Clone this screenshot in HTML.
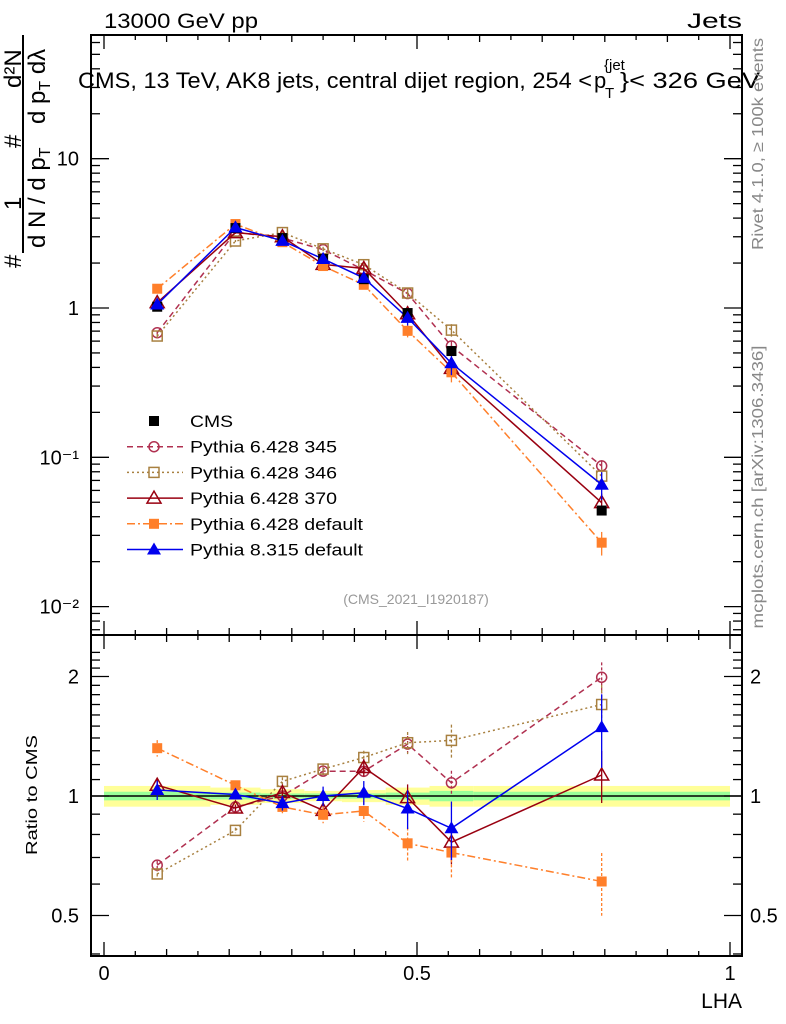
<!DOCTYPE html>
<html><head><meta charset="utf-8"><style>
body{margin:0;background:#fff;}
svg{display:block;font-family:"Liberation Sans",sans-serif;}
</style></head><body>
<svg id="chart" width="786" height="1024" viewBox="0 0 786 1024">
<g id="bands"></g>
<g id="axes"></g>
<g id="series"></g>
<g id="legend"></g>
<text x="104" y="28" font-size="21" textLength="154" lengthAdjust="spacingAndGlyphs">13000 GeV pp</text>
<text x="687" y="28" font-size="21" textLength="55" lengthAdjust="spacingAndGlyphs">Jets</text>
<g font-size="22">
<text x="78" y="88" textLength="514" lengthAdjust="spacingAndGlyphs">CMS, 13 TeV, AK8 jets, central dijet region, 254 &lt;</text>
<text x="594" y="88">p</text>
<text x="605" y="98" font-size="15">T</text>
<text x="604" y="70" font-size="15">{jet</text>
<text x="620" y="88" textLength="140" lengthAdjust="spacingAndGlyphs">}&lt; 326 GeV</text>
</g>
<text x="416" y="604" font-size="14" fill="#999" text-anchor="middle">(CMS_2021_I1920187)</text>
<text x="742" y="1008" font-size="21" text-anchor="end">LHA</text>
<text transform="translate(37,795) rotate(-90)" font-size="16" text-anchor="middle" textLength="120" lengthAdjust="spacingAndGlyphs">Ratio to CMS</text>
<text transform="translate(763,144) rotate(-90)" font-size="16" fill="#888" text-anchor="middle" textLength="212" lengthAdjust="spacingAndGlyphs">Rivet 4.1.0, ≥ 100k events</text>
<text transform="translate(763,487) rotate(-90)" font-size="16" fill="#888" text-anchor="middle" textLength="283" lengthAdjust="spacingAndGlyphs">mcplots.cern.ch [arXiv:1306.3436]</text>
<g font-size="24">
<line x1="23" y1="35" x2="23" y2="253" stroke="#000" stroke-width="2"/>
<text transform="translate(21,268) rotate(-90)">#</text>
<text transform="translate(21,210) rotate(-90)">1</text>
<text transform="translate(21,148) rotate(-90)">#</text>
<text transform="translate(21,88) rotate(-90)">d²N</text>
<text transform="translate(45,248) rotate(-90)">d N / d p<tspan font-size="16" dy="5">T</tspan></text>
<text transform="translate(45,124) rotate(-90)">d p<tspan font-size="16" dy="5">T</tspan><tspan dy="-5"> d</tspan>λ</text>
</g>
</svg>
<script>
const NS='http://www.w3.org/2000/svg';
const xCenters=[0.085,0.21,0.285,0.35,0.415,0.485,0.555,0.795];
const cmsVals=[1.02,3.43,2.94,2.13,1.56,0.925,0.515,0.044];
const p345=[0.683,3.22,2.94,2.46,1.80,1.25,0.556,0.0876];
const p346=[0.649,2.81,3.20,2.49,1.95,1.26,0.711,0.0748];
const p370=[1.086,3.20,3.00,1.96,1.84,0.916,0.394,0.0497];
const p6def=[1.346,3.65,2.76,1.91,1.43,0.703,0.371,0.0268];
const p8def=[1.056,3.46,2.82,2.13,1.59,0.860,0.427,0.0656];
const relErr=[0.04,0.02,0.03,0.04,0.05,0.08,0.12,0.15];
const binEdges=[0,0.17,0.25,0.32,0.38,0.45,0.52,0.59,1.0];
const bandYellow=[0.06,0.05,0.04,0.03,0.035,0.05,0.06,0.06];
const bandGreen=[0.025,0.02,0.015,0.015,0.015,0.02,0.03,0.025];
const mainTicks=[0.01,0.1,1,10];
const mainTickLabels=['10⁻²','10⁻¹','1','10'];
const ratioTicks=[0.5,1,2];
const ratioTickLabels=['0.5','1','2'];
const xTicks=[0,0.5,1];
const xTickLabels=['0','0.5','1'];

const L=91,R=742,T=35,MB=635,RB=956;
const X=v=>104+626*v;
const Ym=v=>308-149.3*Math.log10(v);
const Yr=v=>796-397*Math.log10(v);
function el(tag,attrs,parent){const e=document.createElementNS(NS,tag);for(const k in attrs)e.setAttribute(k,attrs[k]);parent.appendChild(e);return e;}
const gB=document.getElementById('bands'),gA=document.getElementById('axes'),gS=document.getElementById('series'),gL=document.getElementById('legend');

for(let i=0;i<xCenters.length;i++){
  const x1=X(binEdges[i]),x2=X(binEdges[i+1]);
  const y=el('rect',{x:x1,y:Yr(1+bandYellow[i]),width:x2-x1,height:Yr(1-bandYellow[i])-Yr(1+bandYellow[i]),fill:'#ffff99'},gB);
  
  
  const g=el('rect',{x:x1,y:Yr(1+bandGreen[i]),width:x2-x1,height:Yr(1-bandGreen[i])-Yr(1+bandGreen[i]),fill:'#99ff99'},gB);
  
  
}
el('line',{x1:L,x2:R,y1:Yr(1),y2:Yr(1),stroke:'#000','stroke-width':1.5},gB);

el('rect',{x:L,y:T,width:R-L,height:MB-T,fill:'none',stroke:'#000','stroke-width':2},gA);
el('rect',{x:L,y:MB,width:R-L,height:RB-MB,fill:'none',stroke:'#000','stroke-width':2},gA);
for(let k=0;k<=20;k++){const v=k*0.05;const len=(k%10==0)?14:(k%2==0?7:5);
  for(const [yb,yt] of [[MB,T],[RB,MB]]){
    el('line',{x1:X(v),x2:X(v),y1:yb,y2:yb-len,stroke:'#000','stroke-width':1.3},gA);
    el('line',{x1:X(v),x2:X(v),y1:yt,y2:yt+len,stroke:'#000','stroke-width':1.3},gA);
  }}
xTicks.forEach((v,i)=>{const t=el('text',{x:X(v),y:980,'font-size':20,'text-anchor':'middle'},gA);t.textContent=xTickLabels[i];
  
  });
for(let d=-3;d<=1;d++){for(let m=1;m<10;m++){const v=m*Math.pow(10,d);const y=Ym(v);if(y<T||y>MB)continue;const len=m==1?18:9;
  el('line',{x1:L,x2:L+len,y1:y,y2:y,stroke:'#000','stroke-width':1.3},gA);
  el('line',{x1:R,x2:R-len,y1:y,y2:y,stroke:'#000','stroke-width':1.3},gA);}}
mainTicks.forEach((v,i)=>{const t=el('text',{x:79,y:Ym(v)+7,'font-size':20,'text-anchor':'end'},gA);t.textContent=mainTickLabels[i];
  
  });
for(let v=0.4;v<=2.35;v+=0.1){const y=Yr(v);if(y<MB||y>RB)continue;const major=Math.abs(v-0.5)<1e-6||Math.abs(v-1)<1e-6||Math.abs(v-2)<1e-6;const len=major?18:9;
  el('line',{x1:L,x2:L+len,y1:y,y2:y,stroke:'#000','stroke-width':1.3},gA);
  el('line',{x1:R,x2:R-len,y1:y,y2:y,stroke:'#000','stroke-width':1.3},gA);}
ratioTicks.forEach((v,i)=>{
  const t=el('text',{x:79,y:Yr(v)+7,'font-size':20,'text-anchor':'end'},gA);t.textContent=ratioTickLabels[i];
  
  
  const t2=el('text',{x:750,y:Yr(v)+7,'font-size':20},gA);t2.textContent=ratioTickLabels[i];
  
  });

function marker(g,type,color,x,y){
  if(type==='circle')el('circle',{cx:x,cy:y,r:5,fill:'none',stroke:color,'stroke-width':1.5},g);
  else if(type==='osq')el('rect',{x:x-5,y:y-5,width:10,height:10,fill:'none',stroke:color,'stroke-width':1.5},g);
  else if(type==='fsq')el('rect',{x:x-5,y:y-5,width:10,height:10,fill:color},g);
  else if(type==='otri')el('polygon',{points:`${x},${y-7} ${x-7},${y+5} ${x+7},${y+5}`,fill:'none',stroke:color,'stroke-width':1.5},g);
  else if(type==='ftri')el('polygon',{points:`${x},${y-7} ${x-7},${y+5} ${x+7},${y+5}`,fill:color},g);
}
const series=[
  {name:'Pythia 6.428 345',vals:p345,color:'#b03050',type:'circle',dash:'6,4'},
  {name:'Pythia 6.428 346',vals:p346,color:'#a88040',type:'osq',dash:'2,3'},
  {name:'Pythia 6.428 370',vals:p370,color:'#990010',type:'otri',dash:''},
  {name:'Pythia 6.428 default',vals:p6def,color:'#ff7f2a',type:'fsq',dash:'8,3,2,3'},
  {name:'Pythia 8.315 default',vals:p8def,color:'#0000ee',type:'ftri',dash:''}
];
series.forEach((s,si)=>{
  const g=el('g',{},gS);
  
  
  const pm=xCenters.map((x,i)=>X(x)+','+Ym(s.vals[i])).join(' ');
  el('polyline',{points:pm,fill:'none',stroke:s.color,'stroke-width':1.5,'stroke-dasharray':s.dash},g);
  const pr=xCenters.map((x,i)=>X(x)+','+Yr(s.vals[i]/cmsVals[i])).join(' ');
  el('polyline',{points:pr,fill:'none',stroke:s.color,'stroke-width':1.5,'stroke-dasharray':s.dash},g);
  xCenters.forEach((x,i)=>{
    const r=s.vals[i]/cmsVals[i],e=relErr[i]*(0.6+0.2*si);
    el('line',{x1:X(x),x2:X(x),y1:Yr(r*(1+e)),y2:Yr(r*(1-e)),stroke:s.color,'stroke-width':1.3,'stroke-dasharray':s.dash?'3,2':''},g);
    el('line',{x1:X(x),x2:X(x),y1:Ym(s.vals[i]*(1+e)),y2:Ym(s.vals[i]*(1-e)),stroke:s.color,'stroke-width':1.3},g);
    marker(g,s.type,s.color,X(x),Ym(s.vals[i]));
    marker(g,s.type,s.color,X(x),Yr(r));
  });
});
const gc=el('g',{},gS);


xCenters.forEach((x,i)=>{el('rect',{x:X(x)-5,y:Ym(cmsVals[i])-5,width:10,height:10,fill:'#000'},gc);});
xCenters.forEach((x,i)=>marker(gS,'ftri','#0000ee',X(x),Ym(p8def[i])));

const legItems=[{name:'CMS',color:'#000',type:'fsq',dash:null}].concat(series);
legItems.forEach((s,i)=>{
  const y=421+25.7*i;
  const g=el('g',{},gL);
  
  
  if(s.dash!==null)el('line',{x1:127,x2:183,y1:y,y2:y,stroke:s.color,'stroke-width':1.5,'stroke-dasharray':s.dash},g);
  marker(g,s.type,s.color,154,y);
  const t=el('text',{x:190,y:y+6,'font-size':17},g);t.textContent=s.name;
  t.setAttribute('textLength',String(Math.round(t.getComputedTextLength()*1.15)));
  t.setAttribute('lengthAdjust','spacingAndGlyphs');
});
</script>
</body></html>
